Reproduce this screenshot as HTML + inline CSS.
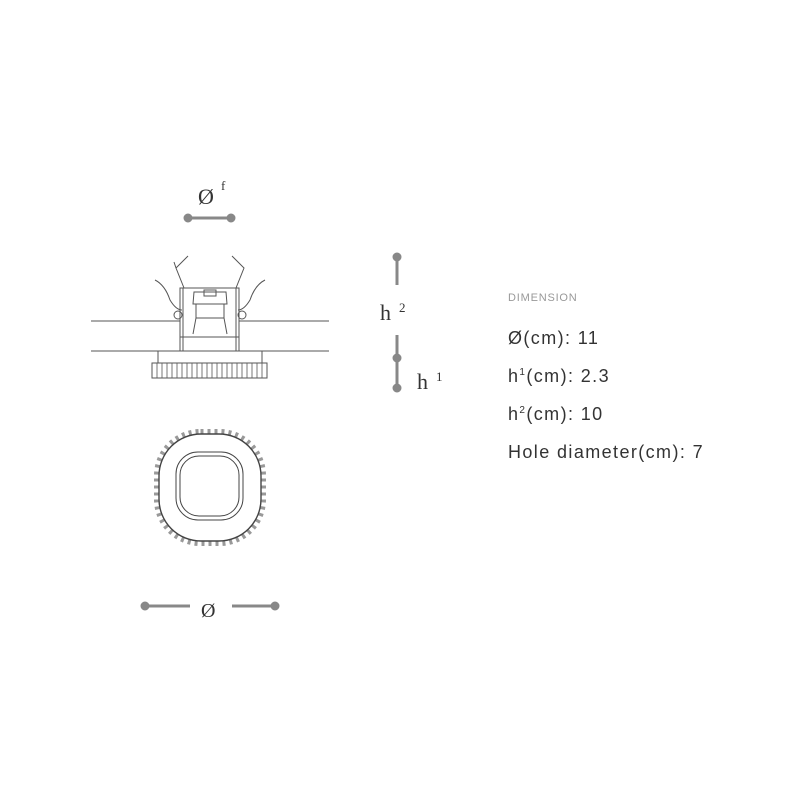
<!DOCTYPE html>
<html><head><style>
html,body{margin:0;padding:0;background:#fff;}
.t{position:absolute;font-family:"Liberation Sans",sans-serif;color:#333;font-size:18px;left:508px;letter-spacing:1.4px;white-space:nowrap;}
sup{font-size:10px;}
</style></head><body>
<div style="position:relative;width:800px;height:800px;overflow:hidden;">
<svg width="800" height="800" style="position:absolute;left:0;top:0">
<g font-family="Liberation Serif,serif" fill="#333">
<text x="198" y="204" font-size="22">Ø</text><text x="221" y="190" font-size="13">f</text>
<text x="380" y="320" font-size="22">h</text><text x="399" y="312" font-size="13">2</text>
<text x="417" y="389" font-size="22">h</text><text x="436" y="381" font-size="13">1</text>
<text x="201" y="617" font-size="20">Ø</text>
</g>
<g stroke="#888" stroke-width="3" fill="#888">
<line x1="188" y1="218" x2="231" y2="218"/><circle cx="188" cy="218" r="3"/><circle cx="231" cy="218" r="3"/>
<line x1="397" y1="257" x2="397" y2="285"/><circle cx="397" cy="257" r="3"/>
<line x1="397" y1="335" x2="397" y2="388"/><circle cx="397" cy="358" r="3"/><circle cx="397" cy="388" r="3"/>
<line x1="145" y1="606" x2="190" y2="606"/><line x1="232" y1="606" x2="275" y2="606"/><circle cx="145" cy="606" r="3"/><circle cx="275" cy="606" r="3"/>
</g>
<g stroke="#555" stroke-width="1" fill="none">
<line x1="91" y1="321" x2="180" y2="321"/><line x1="239" y1="321" x2="329" y2="321"/>
<line x1="91" y1="351" x2="329" y2="351"/>
<rect x="180" y="288" width="59" height="49"/>
<line x1="180" y1="337" x2="180" y2="351"/><line x1="239" y1="337" x2="239" y2="351"/>
<line x1="183" y1="288" x2="183" y2="351"/><line x1="236" y1="288" x2="236" y2="351"/>
<path d="M194 292 L226 292 L227 304 L193 304 Z"/><rect x="204" y="290" width="12" height="6"/>
<path d="M196 304 L196 318 L193 334 M224 304 L224 318 L227 334 M196 318 L224 318"/>
<path d="M184 288 L176 268 L188 256 M176 268 L174 262"/>
<path d="M236 288 L244 268 L232 256"/>
<path d="M155 280 Q165 285 170 300 Q176 310 182 310"/>
<path d="M265 280 Q255 285 250 300 Q244 310 238 310"/>
<circle cx="178" cy="315" r="4"/><circle cx="242" cy="315" r="4"/>
<rect x="158" y="351" width="104" height="12"/>
<rect x="152" y="363" width="115" height="15"/>
</g>
<g stroke="#555" stroke-width="0.8">
<line x1="157" y1="363" x2="157" y2="378"/><line x1="162" y1="363" x2="162" y2="378"/><line x1="167" y1="363" x2="167" y2="378"/><line x1="172" y1="363" x2="172" y2="378"/><line x1="177" y1="363" x2="177" y2="378"/><line x1="182" y1="363" x2="182" y2="378"/><line x1="187" y1="363" x2="187" y2="378"/><line x1="192" y1="363" x2="192" y2="378"/><line x1="197" y1="363" x2="197" y2="378"/><line x1="202" y1="363" x2="202" y2="378"/><line x1="207" y1="363" x2="207" y2="378"/><line x1="212" y1="363" x2="212" y2="378"/><line x1="217" y1="363" x2="217" y2="378"/><line x1="222" y1="363" x2="222" y2="378"/><line x1="227" y1="363" x2="227" y2="378"/><line x1="232" y1="363" x2="232" y2="378"/><line x1="237" y1="363" x2="237" y2="378"/><line x1="242" y1="363" x2="242" y2="378"/><line x1="247" y1="363" x2="247" y2="378"/><line x1="252" y1="363" x2="252" y2="378"/><line x1="257" y1="363" x2="257" y2="378"/><line x1="262" y1="363" x2="262" y2="378"/>
</g>
<g stroke="#444" fill="none">
<rect x="156.5" y="431.5" width="107" height="112" rx="44" stroke-width="5" stroke="#999" stroke-dasharray="3 4"/>
<rect x="159" y="434" width="102" height="107" rx="42" stroke-width="1.4" fill="#fff"/>
<rect x="176" y="452" width="67" height="68" rx="22" stroke-width="1"/>
<rect x="180" y="456" width="59" height="60" rx="19" stroke-width="1"/>
</g>
</svg>
<div class="t" style="top:292px;font-size:11px;color:#999;letter-spacing:0.8px;">DIMENSION</div>
<div class="t" style="top:328px;">Ø(cm): 11</div>
<div class="t" style="top:366px;">h<sup>1</sup>(cm): 2.3</div>
<div class="t" style="top:404px;">h<sup>2</sup>(cm): 10</div>
<div class="t" style="top:442px;">Hole diameter(cm): 7</div>
</div>
</body></html>
